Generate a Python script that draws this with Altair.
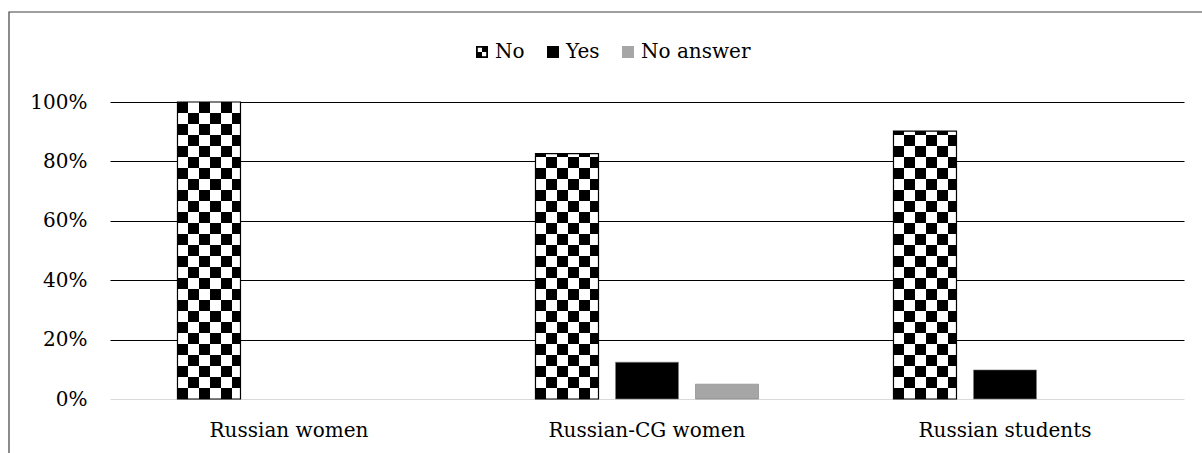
import altair as alt
import pandas as pd

# ---- data ----
categories = ["Russian women", "Russian-CG women", "Russian students"]
series_order = ["No", "Yes", "No answer"]
no_values = [100.0, 82.6, 90.2]
yes_values = [0.0, 12.4, 9.8]
no_answer_values = [0.0, 5.0, 0.0]
y_ticks = [0, 20, 40, 60, 80, 100]

rows = []
for i, c in enumerate(categories):
    rows.append({"category": c, "series": "No", "value": no_values[i]})
    rows.append({"category": c, "series": "Yes", "value": yes_values[i]})
    rows.append({"category": c, "series": "No answer", "value": no_answer_values[i]})
df = pd.DataFrame(rows)

# ---- styling ----
FONT = "DejaVu Serif"
CELL = 100 / 27  # checker cell height in data units
N_COLS = 5.73    # checker columns across a bar


def stripes(start_black):
    stops = []
    step = 1 / N_COLS
    pos = 0.0
    black = start_black
    while pos < 1:
        nxt = min(pos + step, 1)
        col = "#000000" if black else "#ffffff"
        stops.append({"offset": pos, "color": col})
        stops.append({"offset": nxt, "color": col})
        pos = nxt
        black = not black
    return {"gradient": "linear", "x1": 0, "y1": 0, "x2": 1, "y2": 0, "stops": stops}


grad_a = stripes(True)
grad_b = stripes(False)

checker_path = ("M-1,-1H1V1H-1Z M-0.7,-0.7V0.7H0.7V-0.7Z "
                "M0,-0.7H0.7V0H0Z M-0.7,0H0V0.7H-0.7Z")

x_enc = alt.X(
    "category:N",
    sort=categories,
    scale=alt.Scale(paddingInner=0.377, paddingOuter=0.1885),
    axis=alt.Axis(title=None, domain=False, ticks=False, labelAngle=0,
                  labelPadding=21, labelFont=FONT, labelFontSize=20,
                  labelColor="#000000", labelLimit=0, grid=False),
)
xoff_enc = alt.XOffset(
    "series:N",
    sort=series_order,
    scale=alt.Scale(domain=series_order, paddingInner=0.2125, paddingOuter=0),
)
y_scale = alt.Scale(domain=[0, 100], nice=False, zero=True)

base = alt.Chart(df)

# Yes / No answer bars
plain_bars = base.transform_filter(
    "datum.series !== 'No' && datum.value > 0"
).mark_bar(stroke="#7f7f7f", strokeWidth=0.6).encode(
    x=x_enc,
    xOffset=xoff_enc,
    y=alt.Y("value:Q", scale=y_scale,
            axis=alt.Axis(title=None, domain=False, ticks=False, values=y_ticks,
                          labelExpr="datum.value + '%'", labelPadding=23,
                          labelFont=FONT, labelFontSize=20, labelColor="#000000",
                          grid=True, gridWidth=1,
                          gridColor={"condition": {"test": "datum.value === 0", "value": "#d9d9d9"},
                                     "value": "#000000"})),
    color=alt.condition("datum.series === 'Yes'", alt.value("#000000"), alt.value("#a6a6a6")),
)

# checkerboard rows for the "No" bars
checker = base.transform_filter("datum.series === 'No'").transform_calculate(
    rows=f"sequence(0, ceil(datum.value / {CELL} - 0.001))"
).transform_flatten(["rows"], as_=["row"]).transform_calculate(
    y0=f"datum.row * {CELL}",
    y1=f"min((datum.row + 1) * {CELL}, datum.value)",
    parity="datum.row % 2",
)

checker_a = checker.transform_filter("datum.parity === 0").mark_bar(
    fill=grad_a, strokeWidth=0
).encode(x=x_enc, xOffset=xoff_enc, y=alt.Y("y0:Q", scale=y_scale), y2="y1:Q")

checker_b = checker.transform_filter("datum.parity === 1").mark_bar(
    fill=grad_b, strokeWidth=0
).encode(x=x_enc, xOffset=xoff_enc, y=alt.Y("y0:Q", scale=y_scale), y2="y1:Q")

outline = base.transform_filter("datum.series === 'No'").mark_bar(
    fillOpacity=0, stroke="#000000", strokeWidth=1.2
).encode(x=x_enc, xOffset=xoff_enc, y=alt.Y("value:Q", scale=y_scale))

legend_def = alt.Legend(title=None, orient="none", direction="horizontal",
                        legendX=362, legendY=-60, symbolSize=144,
                        symbolOpacity=1, symbolStrokeWidth=0,
                        labelFont=FONT, labelFontSize=20,
                        labelColor="#000000", labelOffset=3,
                        columnPadding=18, padding=0)

# invisible points that carry the legend
legend_layer = base.mark_point(filled=True, opacity=0).encode(
    x=x_enc,
    xOffset=xoff_enc,
    y=alt.Y("value:Q", scale=y_scale),
    color=alt.Color("series:N", sort=series_order,
                    scale=alt.Scale(domain=series_order,
                                    range=["#000000", "#000000", "#a6a6a6"]),
                    legend=legend_def),
    shape=alt.Shape("series:N", sort=series_order,
                    scale=alt.Scale(domain=series_order,
                                    range=[checker_path, "square", "square"]),
                    legend=legend_def),
)

# outer chart frame
frame = alt.Chart(alt.Data(values=[{"f": 1}])).mark_rect(
    fill=None, stroke="#404040", strokeWidth=1.2
).encode(x=alt.value(-101), x2=alt.value(1130), y=alt.value(-90), y2=alt.value(400))

chart = alt.layer(
    frame, plain_bars, checker_a, checker_b, outline, legend_layer
).properties(
    width=1074, height=297,
    autosize=alt.AutoSizeParams(type="none"),
    padding={"left": 110, "top": 102, "right": 18, "bottom": 54},
    background="#ffffff",
).configure_view(stroke=None)

chart.save("out.html", embed_options={"renderer": "svg", "actions": False})
